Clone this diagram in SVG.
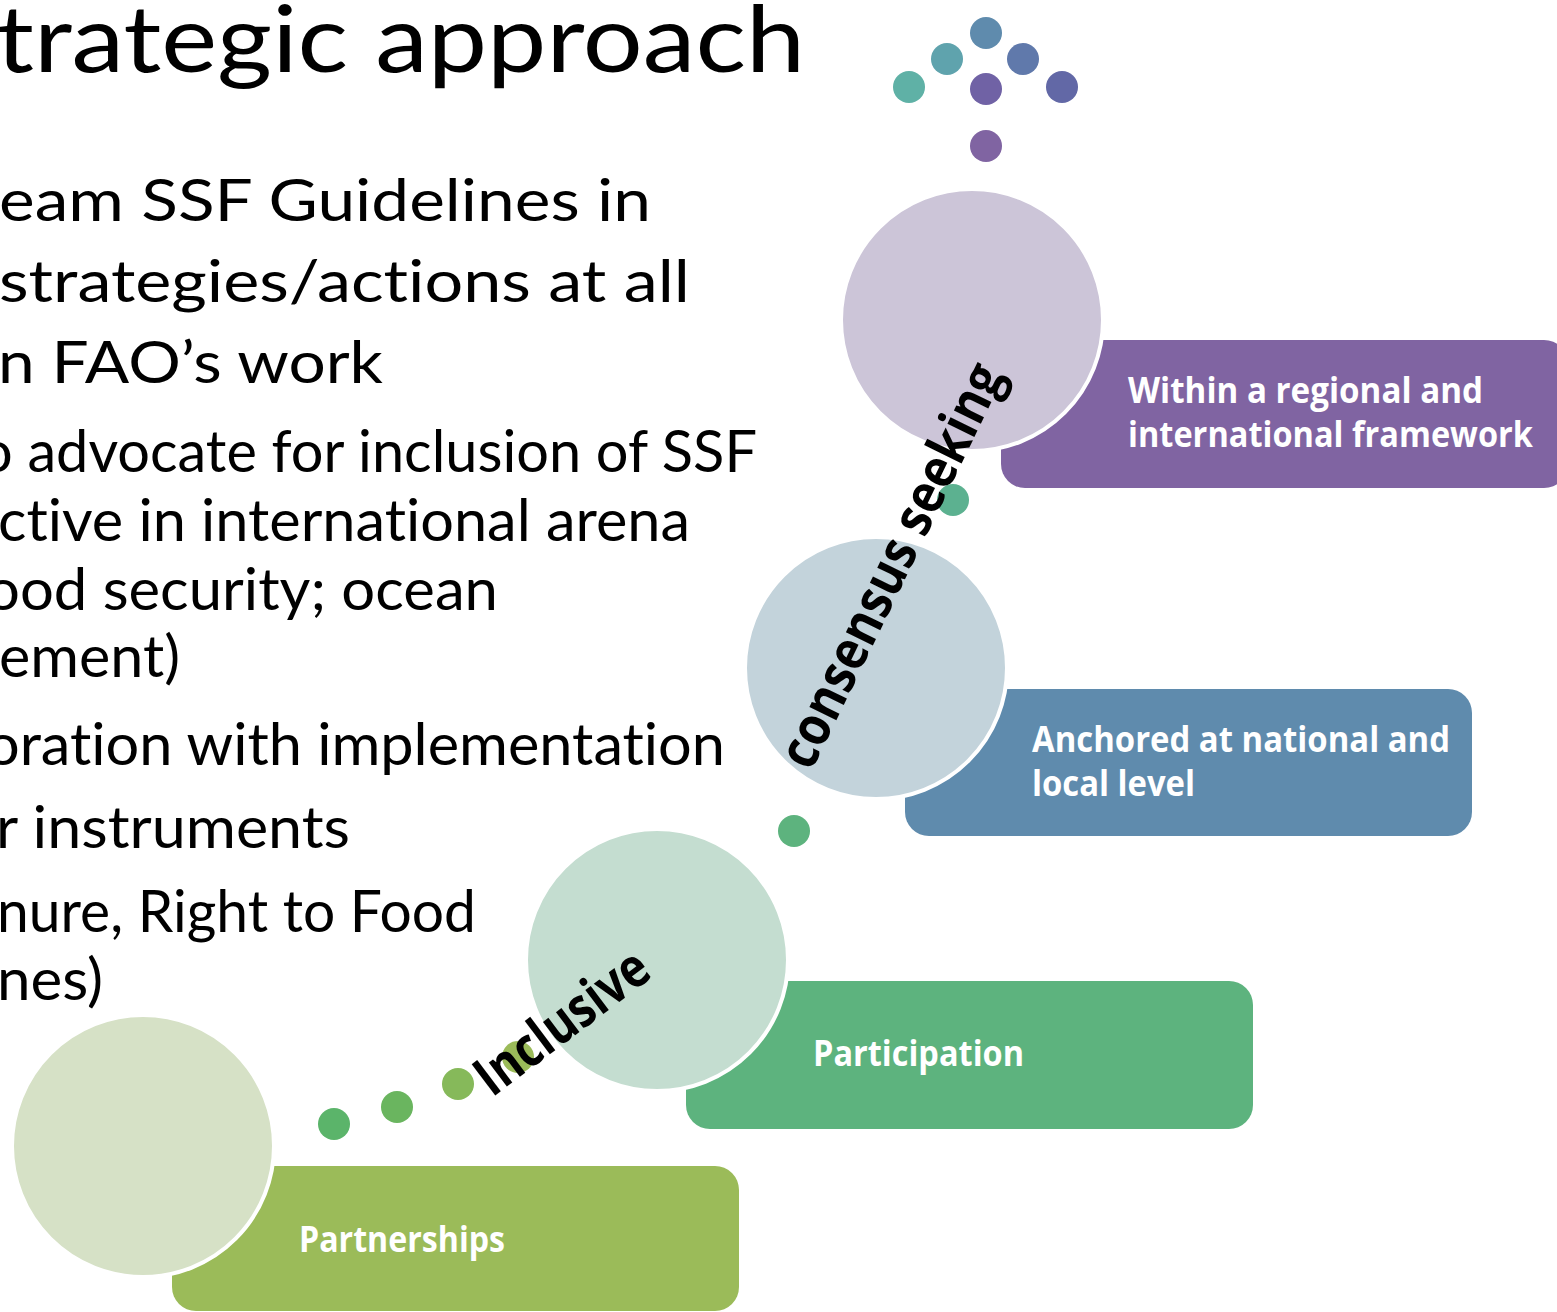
<svg xmlns="http://www.w3.org/2000/svg" width="1557" height="1312" viewBox="0 0 1557 1312">
<style>
text{font-variant-ligatures:none}
.body{font-family:Lato,"Open Sans","Liberation Sans",sans-serif;font-size:59px;fill:#000}
.title{font-family:Lato,"Open Sans","Liberation Sans",sans-serif;font-size:94px;fill:#000}
.lbl{font-family:"Open Sans",Lato,"Liberation Sans",sans-serif;font-size:35px;font-weight:bold;fill:#fff}
.rot{font-family:"Open Sans",Lato,"Liberation Sans",sans-serif;font-size:55px;font-weight:bold;fill:#000}
.circ{stroke:#fff;stroke-width:4}
</style>
<rect width="1557" height="1312" fill="#fff"/>
<g id="title-text">
<text class="title" x="-4" y="72" textLength="809" lengthAdjust="spacingAndGlyphs">trategic approach</text>
</g>
<g id="body-text">
<text class="body" x="-1" y="221" textLength="652" lengthAdjust="spacingAndGlyphs">eam SSF Guidelines in</text>
<text class="body" x="-1" y="302" textLength="691" lengthAdjust="spacingAndGlyphs">strategies/actions at all</text>
<text class="body" x="-2" y="383" textLength="385" lengthAdjust="spacingAndGlyphs">n FAO’s work</text>
<text class="body" x="-20" y="472" textLength="777" lengthAdjust="spacingAndGlyphs">o advocate for inclusion of SSF</text>
<text class="body" x="-2" y="541" textLength="692" lengthAdjust="spacingAndGlyphs">ctive in international arena</text>
<text class="body" x="-14" y="610" textLength="512" lengthAdjust="spacingAndGlyphs">ood security; ocean</text>
<text class="body" x="-1" y="677" textLength="181" lengthAdjust="spacingAndGlyphs">ement)</text>
<text class="body" x="-14" y="765" textLength="739" lengthAdjust="spacingAndGlyphs">oration with implementation</text>
<text class="body" x="-4" y="848" textLength="354" lengthAdjust="spacingAndGlyphs">r instruments</text>
<text class="body" x="-3" y="932" textLength="479" lengthAdjust="spacingAndGlyphs">nure, Right to Food</text>
<text class="body" x="-3" y="1000" textLength="106" lengthAdjust="spacingAndGlyphs">nes)</text>
</g>
<g id="top-dots">
<circle cx="986" cy="33" r="16" fill="#5F8BAD"/>
<circle cx="947" cy="59" r="16" fill="#5FA3AD"/>
<circle cx="1023" cy="59" r="16" fill="#6079AB"/>
<circle cx="909" cy="87" r="16" fill="#5FB1A6"/>
<circle cx="986" cy="89" r="16" fill="#7062A5"/>
<circle cx="1062" cy="87" r="16" fill="#6268A6"/>
<circle cx="986" cy="146" r="16" fill="#8064A2"/>
</g>
<g id="connectors">
<circle cx="334" cy="1124" r="16" fill="#5BB46A"/>
<circle cx="397" cy="1107" r="16" fill="#6AB55F"/>
<circle cx="458" cy="1084" r="16" fill="#86B95A"/>
<circle cx="518" cy="1057" r="16" fill="#9BBB59"/>
<circle cx="794" cy="831" r="16" fill="#5DB37E"/>
<circle cx="953" cy="500" r="16" fill="#5CB190"/>
</g>
<g id="node-within">
<rect x="1001" y="340" width="567" height="148" rx="24" fill="#8064A2"/>
<circle class="circ" cx="972" cy="320" r="131" fill="#CCC5D8"/>
<text class="lbl" x="1128" y="403" textLength="355" lengthAdjust="spacingAndGlyphs">Within a regional and</text>
<text class="lbl" x="1128" y="447" textLength="405" lengthAdjust="spacingAndGlyphs">international framework</text>
</g>
<g id="node-anchored">
<rect x="905" y="689" width="567" height="147" rx="24" fill="#5F8BAD"/>
<circle class="circ" cx="876" cy="668" r="131" fill="#C3D3DB"/>
<text class="lbl" x="1032" y="752" textLength="418" lengthAdjust="spacingAndGlyphs">Anchored at national and</text>
<text class="lbl" x="1032" y="796" textLength="163" lengthAdjust="spacingAndGlyphs">local level</text>
</g>
<g id="node-participation">
<rect x="686" y="981" width="567" height="148" rx="24" fill="#5DB37E"/>
<circle class="circ" cx="657" cy="960" r="131" fill="#C4DDD0"/>
<text class="lbl" x="813" y="1066" textLength="211" lengthAdjust="spacingAndGlyphs">Participation</text>
</g>
<g id="node-partnerships">
<rect x="172" y="1166" width="567" height="145" rx="24" fill="#9BBB59"/>
<circle class="circ" cx="143" cy="1146" r="131" fill="#D6E1C6"/>
<text class="lbl" x="299" y="1252" textLength="206" lengthAdjust="spacingAndGlyphs">Partnerships</text>
</g>
<g id="rotated-labels">
<text class="rot" transform="translate(811,772) rotate(-64)" x="0" y="0" textLength="442" lengthAdjust="spacingAndGlyphs">consensus seeking</text>
<text class="rot" transform="translate(492,1098) rotate(-37)" x="0" y="0" textLength="203" lengthAdjust="spacingAndGlyphs">Inclusive</text>
</g>
</svg>
